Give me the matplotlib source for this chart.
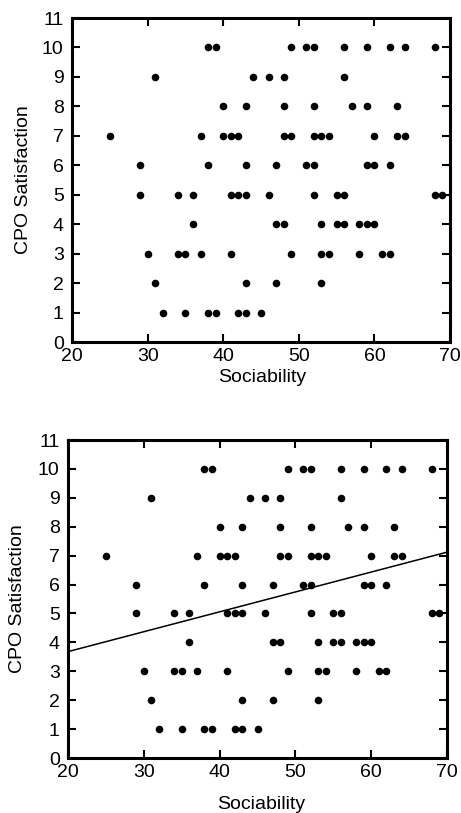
import numpy as np
import matplotlib
matplotlib.use("Agg")
import matplotlib.pyplot as plt

plt.rcParams['font.family'] = ['Liberation Sans', 'DejaVu Sans']

# sociability scores, grouped by CPO satisfaction rating
soc_10 = [38, 39, 49, 51, 52, 56, 59, 62, 64, 68]
soc_9 = [31, 44, 46, 48, 56]
soc_8 = [40, 43, 48, 52, 57, 59, 63]
soc_7 = [25, 37, 40, 41, 42, 48, 49, 52, 53, 54, 60, 63, 64]
soc_6 = [29, 38, 43, 47, 51, 52, 59, 60, 62]
soc_5 = [29, 34, 36, 41, 42, 43, 46, 52, 55, 56, 68, 69]
soc_4 = [36, 47, 48, 53, 55, 56, 58, 59, 60]
soc_3 = [30, 34, 35, 37, 41, 49, 53, 54, 58, 61, 62]
soc_2 = [31, 43, 47, 53]
soc_1 = [32, 35, 38, 39, 42, 43, 45]

groups = {10: soc_10, 9: soc_9, 8: soc_8, 7: soc_7, 6: soc_6,
          5: soc_5, 4: soc_4, 3: soc_3, 2: soc_2, 1: soc_1}

sociability = np.concatenate([np.array(v, float) for v in groups.values()])
satisfaction = np.concatenate([np.full(len(v), k, float) for k, v in groups.items()])

# regression line
fit_x = [20, 70]
fit_y = [3.68, 7.12]

x_ticks = [20, 30, 40, 50, 60, 70]
y_ticks = list(range(0, 12))

fig = plt.figure(figsize=(4.61, 8.13), dpi=100)

def style(ax):
    ax.set_xlim(20, 70)
    ax.set_ylim(0, 11)
    ax.set_xticks(x_ticks)
    ax.set_yticks(y_ticks)
    for s in ax.spines.values():
        s.set_linewidth(2.2)
    ax.tick_params(direction='in', length=6, width=1.5, top=True, right=True,
                   labelsize=14, colors='black')
    ax.tick_params(axis='y', pad=6)
    ax.tick_params(axis='x', pad=4)
    ax.scatter(sociability, satisfaction, s=30, color='black', linewidths=0, zorder=3)
    ax.set_xlabel('Sociability', fontsize=14)
    ax.set_ylabel('CPO Satisfaction', fontsize=14)

ax1 = fig.add_axes([72 / 461, 1 - 342 / 813, 378 / 461, 324 / 813])
style(ax1)
ax1.xaxis.set_label_coords(0.503, -0.083)
ax1.yaxis.set_label_coords(-0.105, 0.5)

ax2 = fig.add_axes([68 / 461, 1 - 758 / 813, 379 / 461, 318 / 813])
style(ax2)
ax2.plot(fit_x, fit_y, color='black', linewidth=1.1, zorder=2)
ax2.xaxis.set_label_coords(0.51, -0.12)
ax2.yaxis.set_label_coords(-0.112, 0.5)

fig.savefig('out.png', dpi=100)
